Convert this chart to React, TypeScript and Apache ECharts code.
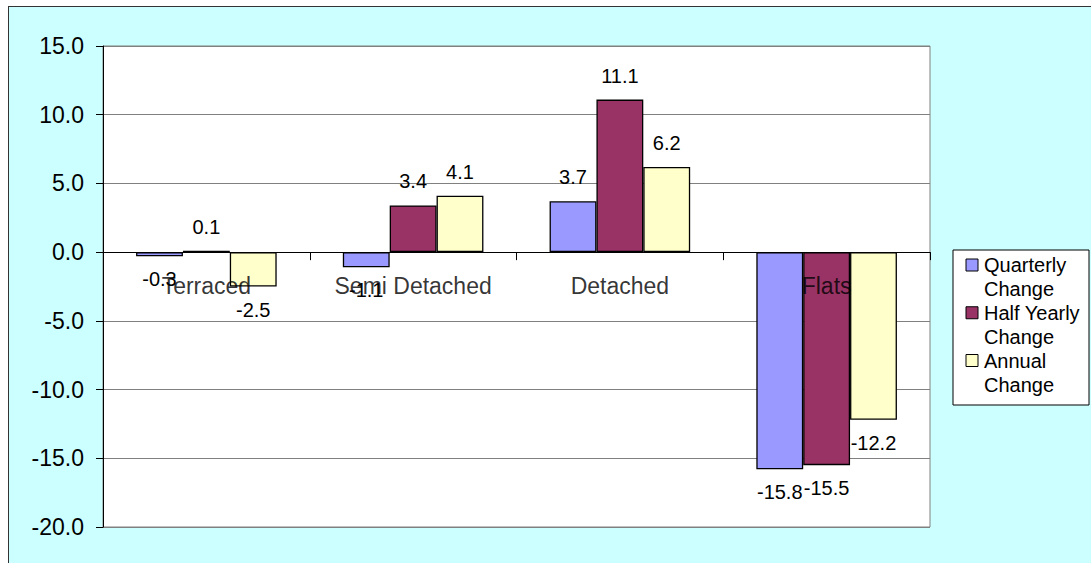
import React, { useEffect, useRef } from "react";
import * as echarts from "echarts";

// Price change by property type (%)
const categories = ["Terraced", "Semi Detached", "Detached", "Flats"];
const quarterly = [-0.3, -1.1, 3.7, -15.8];
const halfYearly = [0.1, 3.4, 11.1, -15.5];
const annual = [-2.5, 4.1, 6.2, -12.2];

const seriesNames = ["Quarterly Change", "Half Yearly Change", "Annual Change"];
const seriesColors = ["#9999FF", "#993366", "#FFFFCC"];
const seriesValues = [quarterly, halfYearly, annual];

const yMin = -20;
const yMax = 15;
const yStep = 5;

const FONT = "'Liberation Sans', Arial, sans-serif";

function valueData(values: number[]) {
  return values.map((v) => ({
    value: v,
    label: {
      position: v >= 0 ? "top" : "bottom",
      distance: v >= 0 ? 14 : 13,
    },
  }));
}

function legendGraphic() {
  const left = 953;
  const top = 250;
  const pitch = 47.75;
  const children: any[] = [
    {
      type: "rect",
      shape: { x: left, y: top, width: 136, height: 155 },
      style: { fill: "#ffffff", stroke: "#000000", lineWidth: 1 },
    },
  ];
  seriesNames.forEach((name, i) => {
    const idx = name.lastIndexOf(" ");
    const text = name.slice(0, idx) + "\n" + name.slice(idx + 1);
    const rowTop = 253 + i * pitch;
    children.push({
      type: "rect",
      shape: { x: 966, y: rowTop + 6, width: 12, height: 12 },
      style: { fill: seriesColors[i], stroke: "#000000", lineWidth: 1 },
    });
    children.push({
      type: "text",
      x: 984,
      y: rowTop,
      style: {
        text,
        font: `20px ${FONT}`,
        fill: "#000000",
        lineHeight: 24.3,
        verticalAlign: "top",
        align: "left",
      },
    });
  });
  return [{ type: "group", children }];
}

export default function App() {
  const ref = useRef<HTMLDivElement>(null);

  useEffect(() => {
    if (!ref.current) return;
    const chart = echarts.init(ref.current, undefined, { renderer: "svg" });
    chart.setOption({
      animation: false,
      backgroundColor: "transparent",
      textStyle: { fontFamily: FONT },
      grid: {
        left: 103,
        top: 46,
        width: 827,
        height: 481,
        show: true,
        backgroundColor: "#ffffff",
        borderColor: "#808080",
        borderWidth: 1,
      },
      xAxis: {
        type: "category",
        data: categories,
        z: 5,
        axisLine: { show: true, onZero: true, lineStyle: { color: "#000000", width: 1 } },
        axisTick: { show: true, length: 8, inside: false, lineStyle: { color: "#000000" } },
        axisLabel: { show: false },
        splitLine: { show: false },
      },
      yAxis: {
        type: "value",
        min: yMin,
        max: yMax,
        interval: yStep,
        axisLine: { show: true, lineStyle: { color: "#000000", width: 1 } },
        axisTick: { show: true, length: 7, lineStyle: { color: "#000000" } },
        axisLabel: {
          fontSize: 23,
          color: "#000000",
          margin: 19,
          fontFamily: FONT,
          formatter: (v: number) => v.toFixed(1),
        },
        splitLine: { show: true, lineStyle: { color: "#808080", width: 1 } },
      },
      series: [
        ...seriesNames.map((name, i) => ({
          name,
          type: "bar",
          data: valueData(seriesValues[i]),
          barGap: "0%",
          barCategoryGap: "32%",
          itemStyle: {
            color: seriesColors[i],
            borderColor: "#000000",
            borderWidth: 1.3,
          },
          label: {
            show: true,
            fontSize: 20,
            color: "#000000",
            fontFamily: FONT,
            formatter: (p: any) => Number(p.value).toFixed(1),
          },
        })),
        // Category names sit just below the zero line, over the bars
        {
          name: "categoryLabels",
          type: "scatter",
          data: categories.map((c) => [c, 0]),
          symbolSize: 0,
          silent: true,
          z: 6,
          label: {
            show: true,
            position: "bottom",
            distance: 22.5,
            fontSize: 23,
            color: "#000000",
            fontFamily: FONT,
            formatter: (p: any) => p.name || p.value[0],
          },
        },
      ],
      graphic: legendGraphic(),
    });
    return () => chart.dispose();
  }, []);

  return (
    <>
      <div
        style={{
          position: "fixed",
          left: 8,
          top: 6,
          right: 0,
          bottom: 0,
          background: "#CCFFFF",
          borderLeft: "1px solid #333333",
          borderTop: "1px solid #333333",
          boxSizing: "border-box",
        }}
      />
      <div
        ref={ref}
        style={{ position: "fixed", left: 0, top: 0, width: 1091, height: 563 }}
      />
    </>
  );
}
